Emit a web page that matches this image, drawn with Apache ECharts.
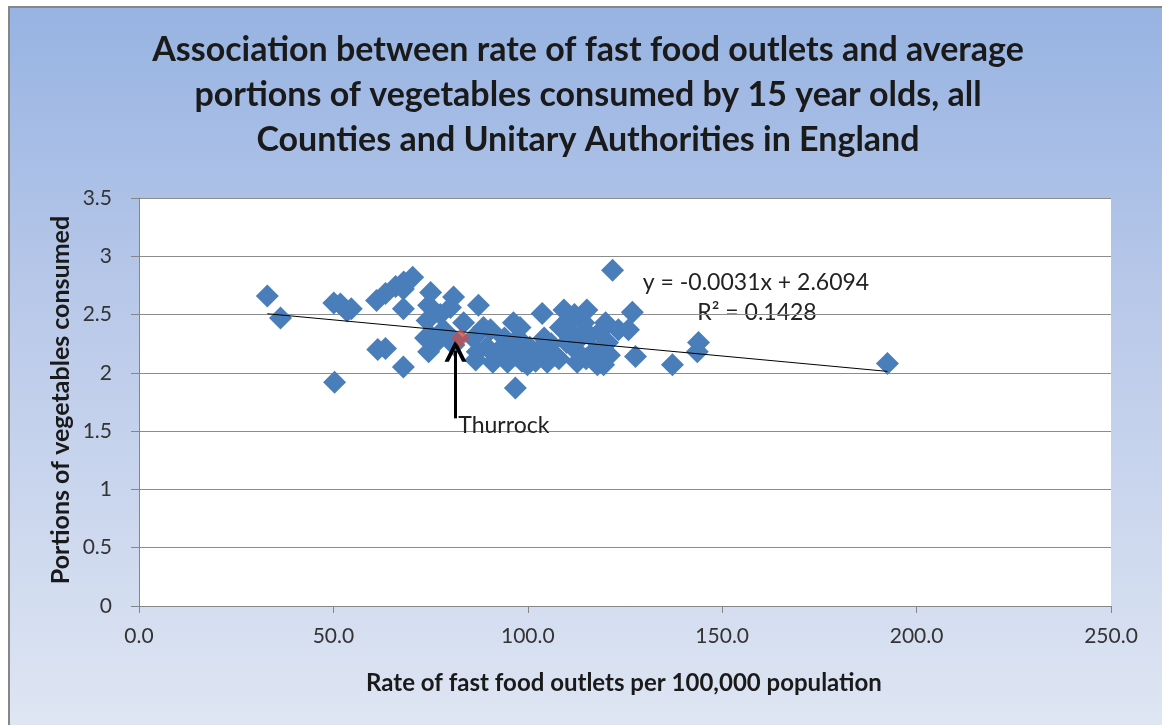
<!DOCTYPE html>
<html>
<head>
<meta charset="utf-8">
<script src="https://cdn.jsdelivr.net/npm/echarts@6/dist/echarts.min.js"></script>
<style>
  html, body { margin: 0; padding: 0; background: #ffffff; }
  #chart { width: 1162px; height: 725px; }
</style>
</head>
<body>
<div id="chart"></div>
<script>
// Fast food outlet rate (per 100,000) vs average vegetable portions, by authority
const areaRates = [
  33.0, 36.4, 50.3, 50.1, 51.8, 53.5, 54.6, 61.1, 61.4, 63.4, 63.4, 66.0, 68.1, 70.4, 68.0,
  68.0, 68.0, 75.0, 74.5, 74.1, 77.5, 80.9, 80.1, 87.3, 75.0, 76.3, 74.5, 83.5, 86.0, 87.0,
  88.6, 86.6, 91.0, 81.0, 78.3, 73.7, 75.8, 81.0, 90.4, 96.3, 98.0, 93.0, 95.5, 96.8, 94.8,
  96.8, 99.0, 99.9, 102.4, 103.7, 104.2, 105.0, 107.0, 108.4, 109.3, 111.0, 111.9, 110.0, 112.7, 115.2,
  114.4, 116.0, 116.9, 117.9, 120.0, 120.5, 119.5, 123.3, 121.8, 126.9, 125.9, 119.5, 127.7, 137.2, 143.9,
  143.6, 192.5, 92.0, 97.5, 100.5, 102.0, 106.0, 108.0, 110.5, 113.5, 115.0, 118.5, 121.0, 89.5, 94.0,
  98.5, 104.5, 112.0
];
const areaPortions = [
  2.66, 2.47, 1.92, 2.60, 2.59, 2.53, 2.55, 2.62, 2.20, 2.21, 2.68, 2.74, 2.78, 2.82, 2.72,
  2.55, 2.05, 2.69, 2.58, 2.45, 2.50, 2.65, 2.56, 2.58, 2.32, 2.26, 2.18, 2.43, 2.30, 2.18,
  2.39, 2.11, 2.09, 2.24, 2.37, 2.30, 2.24, 2.28, 2.37, 2.43, 2.39, 2.21, 2.24, 2.15, 2.09,
  1.87, 2.15, 2.07, 2.18, 2.51, 2.30, 2.09, 2.15, 2.39, 2.54, 2.35, 2.21, 2.26, 2.09, 2.54,
  2.43, 2.32, 2.18, 2.07, 2.43, 2.26, 2.07, 2.37, 2.88, 2.52, 2.37, 2.24, 2.14, 2.07, 2.26,
  2.18, 2.08, 2.15, 2.30, 2.22, 2.10, 2.25, 2.12, 2.45, 2.30, 2.12, 2.35, 2.15, 2.22, 2.30,
  2.10, 2.20, 2.50
];
// Highlighted authority
const highlightName = 'Thurrock';
const highlightPoint = [82.7, 2.30];

// Linear trend stated on the chart
const trendSlope = -0.0031;
const trendIntercept = 2.6094;
const trendR2 = 0.1428;
const trendRange = [33.0, 192.5];

// Axis ticks
const xTicks = [0, 50, 100, 150, 200, 250];
const yTicks = [0, 0.5, 1, 1.5, 2, 2.5, 3, 3.5];

const points = areaRates.map((x, i) => [x, areaPortions[i]]);
const trendPoints = trendRange.map(x => [x, trendIntercept + trendSlope * x]);

const FONT = 'Lato, "Open Sans", sans-serif';
const chart = echarts.init(document.getElementById('chart'), null, { renderer: 'canvas' });

// Open chevron arrow head
const arrowHead = 'path://M0,12 L6,0 L12,12 L9.6,12 L6,4.6 L2.4,12 Z';

chart.setOption({
  animation: false,
  backgroundColor: '#ffffff',
  graphic: [
    {
      type: 'rect', z: -10, silent: true,
      shape: { x: 9, y: 7, width: 1160, height: 725 },
      style: {
        fill: new echarts.graphic.LinearGradient(0, 0, 0, 1, [
          { offset: 0, color: '#97b3e2' },
          { offset: 0.45, color: '#bccbea' },
          { offset: 1, color: '#dfe6f3' }
        ]),
        stroke: '#868686', lineWidth: 2
      }
    },
    {
      type: 'text', silent: true, x: 588, y: 28,
      style: {
        text: 'Association between rate of fast food outlets and average\nportions of vegetables consumed by 15 year olds, all\nCounties and Unitary Authorities in England',
        font: 'bold 34px ' + FONT, fill: '#1a1a1a', align: 'center', lineHeight: 45
      }
    },
    {
      type: 'text', silent: true, x: 61, y: 400, rotation: Math.PI / 2,
      style: {
        text: 'Portions of vegetables consumed',
        font: 'bold 25px ' + FONT, fill: '#1a1a1a', align: 'center', verticalAlign: 'middle'
      }
    },
    {
      type: 'text', silent: true, x: 624, y: 683,
      style: {
        text: 'Rate of fast food outlets per 100,000 population',
        font: 'bold 24px ' + FONT, fill: '#1a1a1a', align: 'center', verticalAlign: 'middle'
      }
    },
    {
      type: 'text', silent: true, x: 756, y: 283,
      style: {
        text: 'y = ' + trendSlope.toFixed(4) + 'x + ' + trendIntercept.toFixed(4),
        font: '23px ' + FONT, fill: '#222222', align: 'center', verticalAlign: 'middle'
      }
    },
    {
      type: 'text', silent: true, x: 757, y: 313,
      style: {
        text: 'R\u00b2 = ' + trendR2.toFixed(4),
        font: '23px ' + FONT, fill: '#222222', align: 'center', verticalAlign: 'middle'
      }
    }
  ],
  grid: { left: 139, top: 198, right: 51, bottom: 119, show: true, backgroundColor: '#ffffff', borderWidth: 0 },
  xAxis: {
    type: 'value', min: xTicks[0], max: xTicks[xTicks.length - 1], interval: 50,
    axisLine: { show: true, onZero: false, lineStyle: { color: '#868686', width: 1 } },
    axisTick: { show: true, length: 7, lineStyle: { color: '#868686' } },
    splitLine: { show: false },
    axisLabel: { formatter: v => v.toFixed(1), color: '#333333', fontSize: 21, fontFamily: FONT, margin: 20 }
  },
  yAxis: {
    type: 'value', min: yTicks[0], max: yTicks[yTicks.length - 1], interval: 0.5,
    axisLine: { show: true, onZero: false, lineStyle: { color: '#868686', width: 1 } },
    axisTick: { show: true, length: 8, lineStyle: { color: '#868686' } },
    splitLine: { show: true, lineStyle: { color: '#8c8c8c', width: 1 } },
    axisLabel: { formatter: v => String(v), color: '#333333', fontSize: 21, fontFamily: FONT, margin: 27 }
  },
  series: [
    {
      type: 'scatter', name: 'Authorities', data: points,
      symbol: 'diamond', symbolSize: [23, 23],
      itemStyle: { color: '#4a7ebb', opacity: 1 }, z: 3
    },
    {
      type: 'line', name: 'Trend', data: trendPoints, showSymbol: false, symbol: 'none',
      lineStyle: { color: '#000000', width: 1 }, z: 4, silent: true
    },
    {
      type: 'scatter', name: highlightName, data: [highlightPoint],
      symbol: 'diamond', symbolSize: [19, 19],
      itemStyle: { color: '#c0504d' }, z: 5,
      markLine: {
        silent: true, symbol: ['none', arrowHead], symbolSize: [22, 22],
        lineStyle: { color: '#000000', width: 3, type: 'solid' },
        label: { show: false },
        data: [[{ coord: [81.4, 1.61] }, { coord: [81.4, 2.19] }]]
      },
      markPoint: {
        silent: true, symbol: 'rect', symbolSize: 1, itemStyle: { color: 'transparent' },
        data: [{ coord: [82.0, 1.55] }],
        label: {
          show: true, formatter: highlightName, position: 'right', distance: 0,
          color: '#222222', fontSize: 23, fontFamily: FONT
        }
      }
    }
  ]
});
</script>
</body>
</html>
